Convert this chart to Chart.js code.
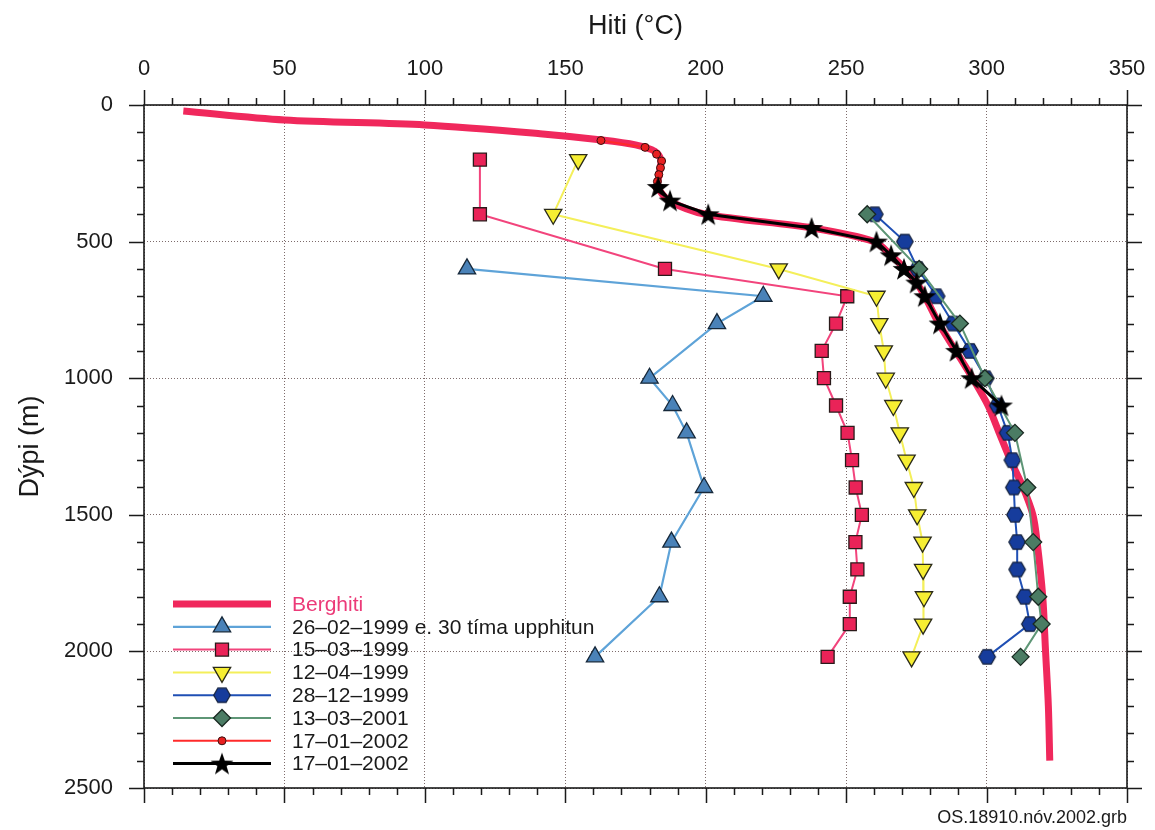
<!DOCTYPE html>
<html>
<head>
<meta charset="utf-8">
<script src="https://cdn.jsdelivr.net/npm/chart.js@4"></script>
<style>
  body { margin: 0; background: #fff; }
  #wrap { width: 1155px; height: 830px; }
</style>
</head>
<body>
<div id="wrap"><canvas id="myChart" width="1155" height="830"></canvas></div>
<script>
// Temperature (°C) vs depth (m) for each logging run
const bergTemp  = [14, 50, 100, 141, 163, 175, 182, 184, 183.5, 183, 187, 200, 238, 260, 266, 271, 275, 278, 283, 289, 295, 300.5, 304.5, 308.5, 313, 316.5, 318, 320, 321, 322, 322.5];
const bergDepth = [22, 55, 73, 105, 128, 146, 170, 200, 250, 300, 350, 400, 450, 500, 550, 600, 650, 700, 800, 900, 1000, 1100, 1200, 1300, 1400, 1500, 1600, 1800, 2000, 2200, 2400];

const d990226 = [600, 700, 800, 1000, 1100, 1200, 1400, 1600, 1800, 2020];
const t990226 = [115, 220.5, 204, 180, 188.2, 193.2, 199.4, 187.8, 183.5, 160.6];

const d990315 = [200, 400, 600, 700, 800, 900, 1000, 1100, 1200, 1300, 1400, 1500, 1600, 1700, 1800, 1900, 2020];
const t990315 = [119.6, 119.6, 185.5, 250.4, 246.4, 241.3, 242.1, 246.4, 250.5, 252.1, 253.4, 255.6, 253.3, 254, 251.3, 251.3, 243.4];

const d990412 = [200, 400, 600, 700, 800, 900, 1000, 1100, 1200, 1300, 1400, 1500, 1600, 1700, 1800, 1900, 2020];
const t990412 = [154.6, 145.7, 226, 260.8, 261.8, 263.4, 264.1, 266.8, 269.1, 271.5, 274.1, 275.3, 277.2, 277.4, 277.7, 277.4, 273.3];

const d991228 = [400, 500, 600, 700, 800, 900, 1000, 1100, 1200, 1300, 1400, 1500, 1600, 1700, 1800, 1900, 2020];
const t991228 = [260.2, 270.9, 275.5, 282.2, 288.1, 294.1, 299.7, 304, 307.5, 309.2, 309.7, 310.1, 310.9, 310.9, 313.6, 315.4, 300.2];

const d010313 = [400, 600, 800, 1000, 1200, 1400, 1600, 1800, 1900, 2020];
const t010313 = [257.5, 276, 290.5, 299.4, 310.1, 314.5, 316.6, 318.4, 319.6, 312.1];

const d020117a = [130, 155, 180, 205, 230, 255, 280, 300];
const t020117a = [162.7, 178.4, 182.5, 184.3, 183.9, 183.3, 182.8, 182.5];

const d020117b = [300, 350, 400, 450, 500, 550, 600, 650, 700, 800, 900, 1000, 1100];
const t020117b = [183.1, 187.3, 200.9, 237.7, 260.8, 266, 270.6, 275.1, 278, 283.4, 289.3, 294.7, 305.3];

const tempTicks = [0, 50, 100, 150, 200, 250, 300, 350];
const depthTicks = [0, 500, 1000, 1500, 2000, 2500];

const FONT = '"Liberation Sans", Arial, Helvetica, sans-serif';
const INK = '#1a1a1a';

function pts(t, d) {
    return t.map((v, i) => ({ x: v, y: d[i] }));
}

// custom marker images for shapes Chart.js doesn't have
function hexagon() {
    const c = document.createElement('canvas');
    c.width = 20; c.height = 20;
    const g = c.getContext('2d');
    g.beginPath();
    for (let i = 0; i < 6; i++) {
        const a = i * Math.PI / 3;
        g.lineTo(10 + 8.3 * Math.cos(a), 10 + 8.3 * Math.sin(a));
    }
    g.closePath();
    g.fillStyle = '#163c9c';
    g.fill();
    g.lineWidth = 1.2;
    g.strokeStyle = '#14213a';
    g.stroke();
    return c;
}
function star() {
    const c = document.createElement('canvas');
    c.width = 26; c.height = 26;
    const g = c.getContext('2d');
    g.beginPath();
    for (let i = 0; i < 10; i++) {
        const r = i % 2 ? 4.8 : 12;
        const a = -Math.PI / 2 + i * Math.PI / 5;
        g.lineTo(13 + r * Math.cos(a), 14 + r * Math.sin(a));
    }
    g.closePath();
    g.fillStyle = '#000';
    g.fill();
    return c;
}
const hexImg = hexagon();
const starImg = star();

const datasets = [
    {
        label: 'Berghiti', data: pts(bergTemp, bergDepth),
        borderColor: '#f0285c', borderWidth: 7, pointRadius: 0, tension: 0.3, order: 9,
        legendText: '#ec3a78'
    },
    {
        label: '26–02–1999 e. 30 tíma upphitun', data: pts(t990226, d990226),
        borderColor: '#5ea3d8', borderWidth: 2.2, pointStyle: 'triangle', pointRadius: 10,
        pointBackgroundColor: '#4a82b8', pointBorderColor: '#16283a', pointBorderWidth: 1.3, order: 8
    },
    {
        label: '15–03–1999', data: pts(t990315, d990315),
        borderColor: '#f2447c', borderWidth: 2, pointStyle: 'rect', pointRadius: 9.2,
        pointBackgroundColor: '#ea2358', pointBorderColor: '#2a1a1a', pointBorderWidth: 1.3, order: 7
    },
    {
        label: '12–04–1999', data: pts(t990412, d990412),
        borderColor: '#f4ef5a', borderWidth: 2, pointStyle: 'triangle', pointRotation: 180, pointRadius: 10,
        pointBackgroundColor: '#f6ee32', pointBorderColor: '#2a2a1a', pointBorderWidth: 1.3, order: 6
    },
    {
        label: '28–12–1999', data: pts(t991228, d991228),
        borderColor: '#1f4fb4', borderWidth: 2, pointStyle: hexImg, pointRadius: 8, order: 5
    },
    {
        label: '13–03–2001', data: pts(t010313, d010313),
        borderColor: '#5e9676', borderWidth: 2, pointStyle: 'rectRot', pointRadius: 8.5,
        pointBackgroundColor: '#4b7c64', pointBorderColor: '#1a2a22', pointBorderWidth: 1.3, order: 4
    },
    {
        label: '17–01–2002', data: pts(t020117a, d020117a),
        borderColor: '#ff2a2a', borderWidth: 2, pointStyle: 'circle', pointRadius: 4,
        pointBackgroundColor: '#e82020', pointBorderColor: '#3a1010', pointBorderWidth: 1, order: 3
    },
    {
        label: '17–01–2002', data: pts(t020117b, d020117b),
        borderColor: '#000', borderWidth: 3, pointStyle: starImg, pointRadius: 11, order: 2
    }
];

// frame, minor/major ticks, legend and footer note
const decor = {
    id: 'decor',
    afterDraw(chart) {
        const ctx = chart.ctx;
        const a = chart.chartArea;
        const xs = chart.scales.x, ys = chart.scales.y;
        ctx.save();
        ctx.strokeStyle = INK;
        ctx.lineWidth = 1.6;
        ctx.strokeRect(a.left, a.top, a.right - a.left, a.bottom - a.top);
        ctx.lineWidth = 1.5;
        ctx.beginPath();
        for (let t = 0; t <= 350; t += 10) {
            const px = Math.round(xs.getPixelForValue(t)) + 0.5;
            const len = t % 50 === 0 ? 15 : 7;
            ctx.moveTo(px, a.top); ctx.lineTo(px, a.top - len);
            ctx.moveTo(px, a.bottom); ctx.lineTo(px, a.bottom + len);
        }
        for (let d = 0; d <= 2500; d += 100) {
            const py = Math.round(ys.getPixelForValue(d)) + 0.5;
            const len = d % 500 === 0 ? 15 : 7;
            ctx.moveTo(a.left, py); ctx.lineTo(a.left - len, py);
            ctx.moveTo(a.right, py); ctx.lineTo(a.right + len, py);
        }
        ctx.stroke();

        // legend
        const rowY = 604, rowH = 22.8;
        chart.data.datasets.forEach((ds, i) => {
            const y = rowY + i * rowH;
            ctx.beginPath();
            ctx.strokeStyle = ds.borderColor;
            ctx.lineWidth = ds.borderWidth;
            ctx.moveTo(173, y); ctx.lineTo(271, y);
            ctx.stroke();
            if (ds.pointRadius > 0 && Chart.helpers && Chart.helpers.drawPoint) {
                ctx.fillStyle = ds.pointBackgroundColor || '#000';
                ctx.strokeStyle = ds.pointBorderColor || '#000';
                ctx.lineWidth = ds.pointBorderWidth || 0;
                Chart.helpers.drawPoint(ctx, {
                    pointStyle: ds.pointStyle, rotation: ds.pointRotation || 0,
                    radius: ds.pointRadius, borderWidth: ds.pointBorderWidth || 0
                }, 222, y);
            }
            ctx.fillStyle = ds.legendText || INK;
            ctx.font = '21px ' + FONT;
            ctx.textAlign = 'left';
            ctx.textBaseline = 'middle';
            ctx.fillText(ds.label, 292, y + 1);
        });

        ctx.fillStyle = INK;
        ctx.font = '18px ' + FONT;
        ctx.textAlign = 'right';
        ctx.textBaseline = 'alphabetic';
        ctx.fillText('OS.18910.nóv.2002.grb', 1127, 823);
        ctx.restore();
    }
};

const ctx = document.getElementById('myChart').getContext('2d');
const myChart = new Chart(ctx, {
    type: 'scatter',
    data: { datasets: datasets },
    options: {
        responsive: false,
        animation: false,
        showLine: true,
        layout: { padding: { left: 0, top: 0, right: 28, bottom: 42 } },
        plugins: { legend: { display: false }, tooltip: { enabled: false } },
        scales: {
            x: {
                type: 'linear', position: 'top', min: 0, max: 350,
                afterBuildTicks: s => { s.ticks = tempTicks.map(v => ({ value: v })); },
                afterFit: s => { s.height = 105; s.paddingLeft = 0; s.paddingRight = 0; },
                ticks: { color: INK, font: { family: FONT, size: 22 }, padding: 23, callback: v => String(v) },
                grid: { color: '#7d6b6b', lineWidth: 1, drawTicks: false },
                border: { display: false, dash: [1, 2] },
                title: { display: true, text: 'Hiti (°C)', color: INK, font: { family: FONT, size: 27 }, padding: { top: 10, bottom: 0 } }
            },
            y: {
                type: 'linear', reverse: true, min: 0, max: 2500,
                afterBuildTicks: s => { s.ticks = depthTicks.map(v => ({ value: v })); },
                afterFit: s => { s.width = 144; s.paddingTop = 0; s.paddingBottom = 0; },
                ticks: { color: INK, font: { family: FONT, size: 22 }, padding: 31, callback: v => String(v) },
                grid: { color: '#7d6b6b', lineWidth: 1, drawTicks: false },
                border: { display: false, dash: [1, 2] },
                title: { display: true, text: 'Dýpi (m)', color: INK, font: { family: FONT, size: 27 }, padding: { top: 14, bottom: 0 } }
            }
        }
    },
    plugins: [decor]
});
</script>
</body>
</html>
